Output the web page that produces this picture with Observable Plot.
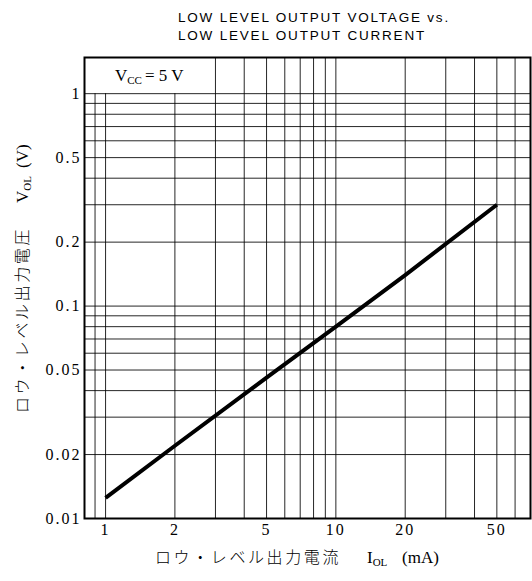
<!DOCTYPE html>
<html>
<head>
<meta charset="utf-8">
<script src="https://cdn.jsdelivr.net/npm/d3@7"></script>
<script src="https://cdn.jsdelivr.net/npm/@observablehq/plot@0.6"></script>
<style>
  html, body { margin: 0; padding: 0; background: #fff; }
</style>
</head>
<body>
<div id="chart"></div>
<script>
// ---- data ----
const titleLines = ["LOW LEVEL OUTPUT VOLTAGE vs.", "LOW LEVEL OUTPUT CURRENT"];
const xTicks = [1, 2, 5, 10, 20, 50];
const xTickLabels = ["1", "2", "5", "10", "20", "50"];
const yTicks = [0.01, 0.02, 0.05, 0.1, 0.2, 0.5, 1];
const yTickLabels = ["0.01", "0.02", "0.05", "0.1", "0.2", "0.5", "1"];
const xGrid = [0.9, 1, 2, 3, 4, 5, 6, 7, 8, 9, 10, 20, 30, 40, 50, 60];
const yGrid = [0.01, 0.02, 0.03, 0.04, 0.05, 0.06, 0.07, 0.08, 0.09,
               0.1, 0.2, 0.3, 0.4, 0.5, 0.6, 0.7, 0.8, 0.9, 1];
const currentMA = [1, 2, 5, 10, 20, 50];          // I_OL (mA)
const voltageV  = [0.0125, 0.022, 0.046, 0.08, 0.14, 0.3]; // V_OL (V)
const xDomain = [0.81, 70];
const yDomain = [0.01, 1.48];
const boxRightX = 3;   // legend box (Vcc) spans left edge to x = 3
const boxBottomY = 1;  // and top edge down to y = 1

const curve = currentMA.map((x, i) => ({x, y: voltageV[i]}));
const vGrid = xGrid.map(x => ({x, y1: yDomain[0], y2: x < boxRightX ? boxBottomY : yDomain[1]}));

const chart = Plot.plot({
  width: 532,
  height: 581,
  marginLeft: 84,
  marginRight: 2,
  marginTop: 57,
  marginBottom: 63,
  style: {fontFamily: "'Liberation Serif', serif", fontSize: "16px", color: "#000", background: "#fff", overflow: "visible"},
  x: {type: "log", domain: xDomain, ticks: xTicks, tickFormat: d => xTickLabels[xTicks.indexOf(d)], tickSize: 0, tickPadding: 5, label: null},
  y: {type: "log", domain: yDomain, ticks: yTicks, tickFormat: d => yTickLabels[yTicks.indexOf(d)], tickSize: 0, tickPadding: 3, label: null},
  marks: [
    Plot.ruleY(yGrid, {y: d => d, stroke: "#000", strokeWidth: 1, strokeOpacity: 0.85}),
    Plot.ruleX(vGrid, {x: "x", y1: "y1", y2: "y2", stroke: "#000", strokeWidth: 1, strokeOpacity: 0.85}),
    Plot.frame({stroke: "#000", strokeWidth: 2}),
    Plot.line(curve, {x: "x", y: "y", stroke: "#000", strokeWidth: 4, strokeLinecap: "butt"})
  ]
});

document.getElementById("chart").appendChild(chart);

const svg = d3.select(chart);
svg.selectAll("g[aria-label='x-axis tick label'] text, g[aria-label='y-axis tick label'] text")
  .style("letter-spacing", "2px");

// title
svg.append("g")
  .attr("text-anchor", "start")
  .attr("font-family", "'Liberation Sans', Arial, sans-serif")
  .attr("font-size", 13.5)
  .attr("letter-spacing", "1.8px")
  .selectAll("text")
  .data(titleLines)
  .join("text")
  .attr("x", 178)
  .attr("y", (d, i) => 22 + i * 17.5)
  .text(d => d);

// Vcc label
const vcc = svg.append("text")
  .attr("text-anchor", "start")
  .attr("x", 115).attr("y", 81)
  .attr("font-family", "'Liberation Serif', serif")
  .attr("font-size", 17);
vcc.append("tspan").text("V");
vcc.append("tspan").attr("font-size", 11).attr("dy", 3).text("CC");
vcc.append("tspan").attr("dy", -3).attr("dx", 3).text("= 5 V");

// x-axis title
const xt = svg.append("text").attr("text-anchor", "start").attr("y", 563);
xt.append("tspan").attr("x", 155)
  .attr("font-family", "'Noto Sans CJK JP', sans-serif").attr("font-size", 16).attr("font-weight", 300)
  .attr("letter-spacing", "2.6px").text("ロウ・レベル出力電流");
xt.append("tspan").attr("x", 367)
  .attr("font-family", "'Liberation Serif', serif").attr("font-size", 17).text("I");
xt.append("tspan").attr("dy", 3)
  .attr("font-family", "'Liberation Serif', serif").attr("font-size", 11).text("OL");
xt.append("tspan").attr("x", 402).attr("dy", -3)
  .attr("font-family", "'Liberation Serif', serif").attr("font-size", 17).text("(mA)");

// y-axis title (rotated)
const yt = svg.append("text").attr("text-anchor", "start").attr("transform", "translate(28,0) rotate(-90)");
yt.append("tspan").attr("x", -413)
  .attr("font-family", "'Noto Sans CJK JP', sans-serif").attr("font-size", 16).attr("font-weight", 300)
  .attr("letter-spacing", "2.6px").text("ロウ・レベル出力電圧");
yt.append("tspan").attr("x", -203)
  .attr("font-family", "'Liberation Serif', serif").attr("font-size", 17).text("V");
yt.append("tspan").attr("dy", 3)
  .attr("font-family", "'Liberation Serif', serif").attr("font-size", 11).text("OL");
yt.append("tspan").attr("x", -168).attr("dy", -3)
  .attr("font-family", "'Liberation Serif', serif").attr("font-size", 17).text("(V)");
</script>
</body>
</html>
